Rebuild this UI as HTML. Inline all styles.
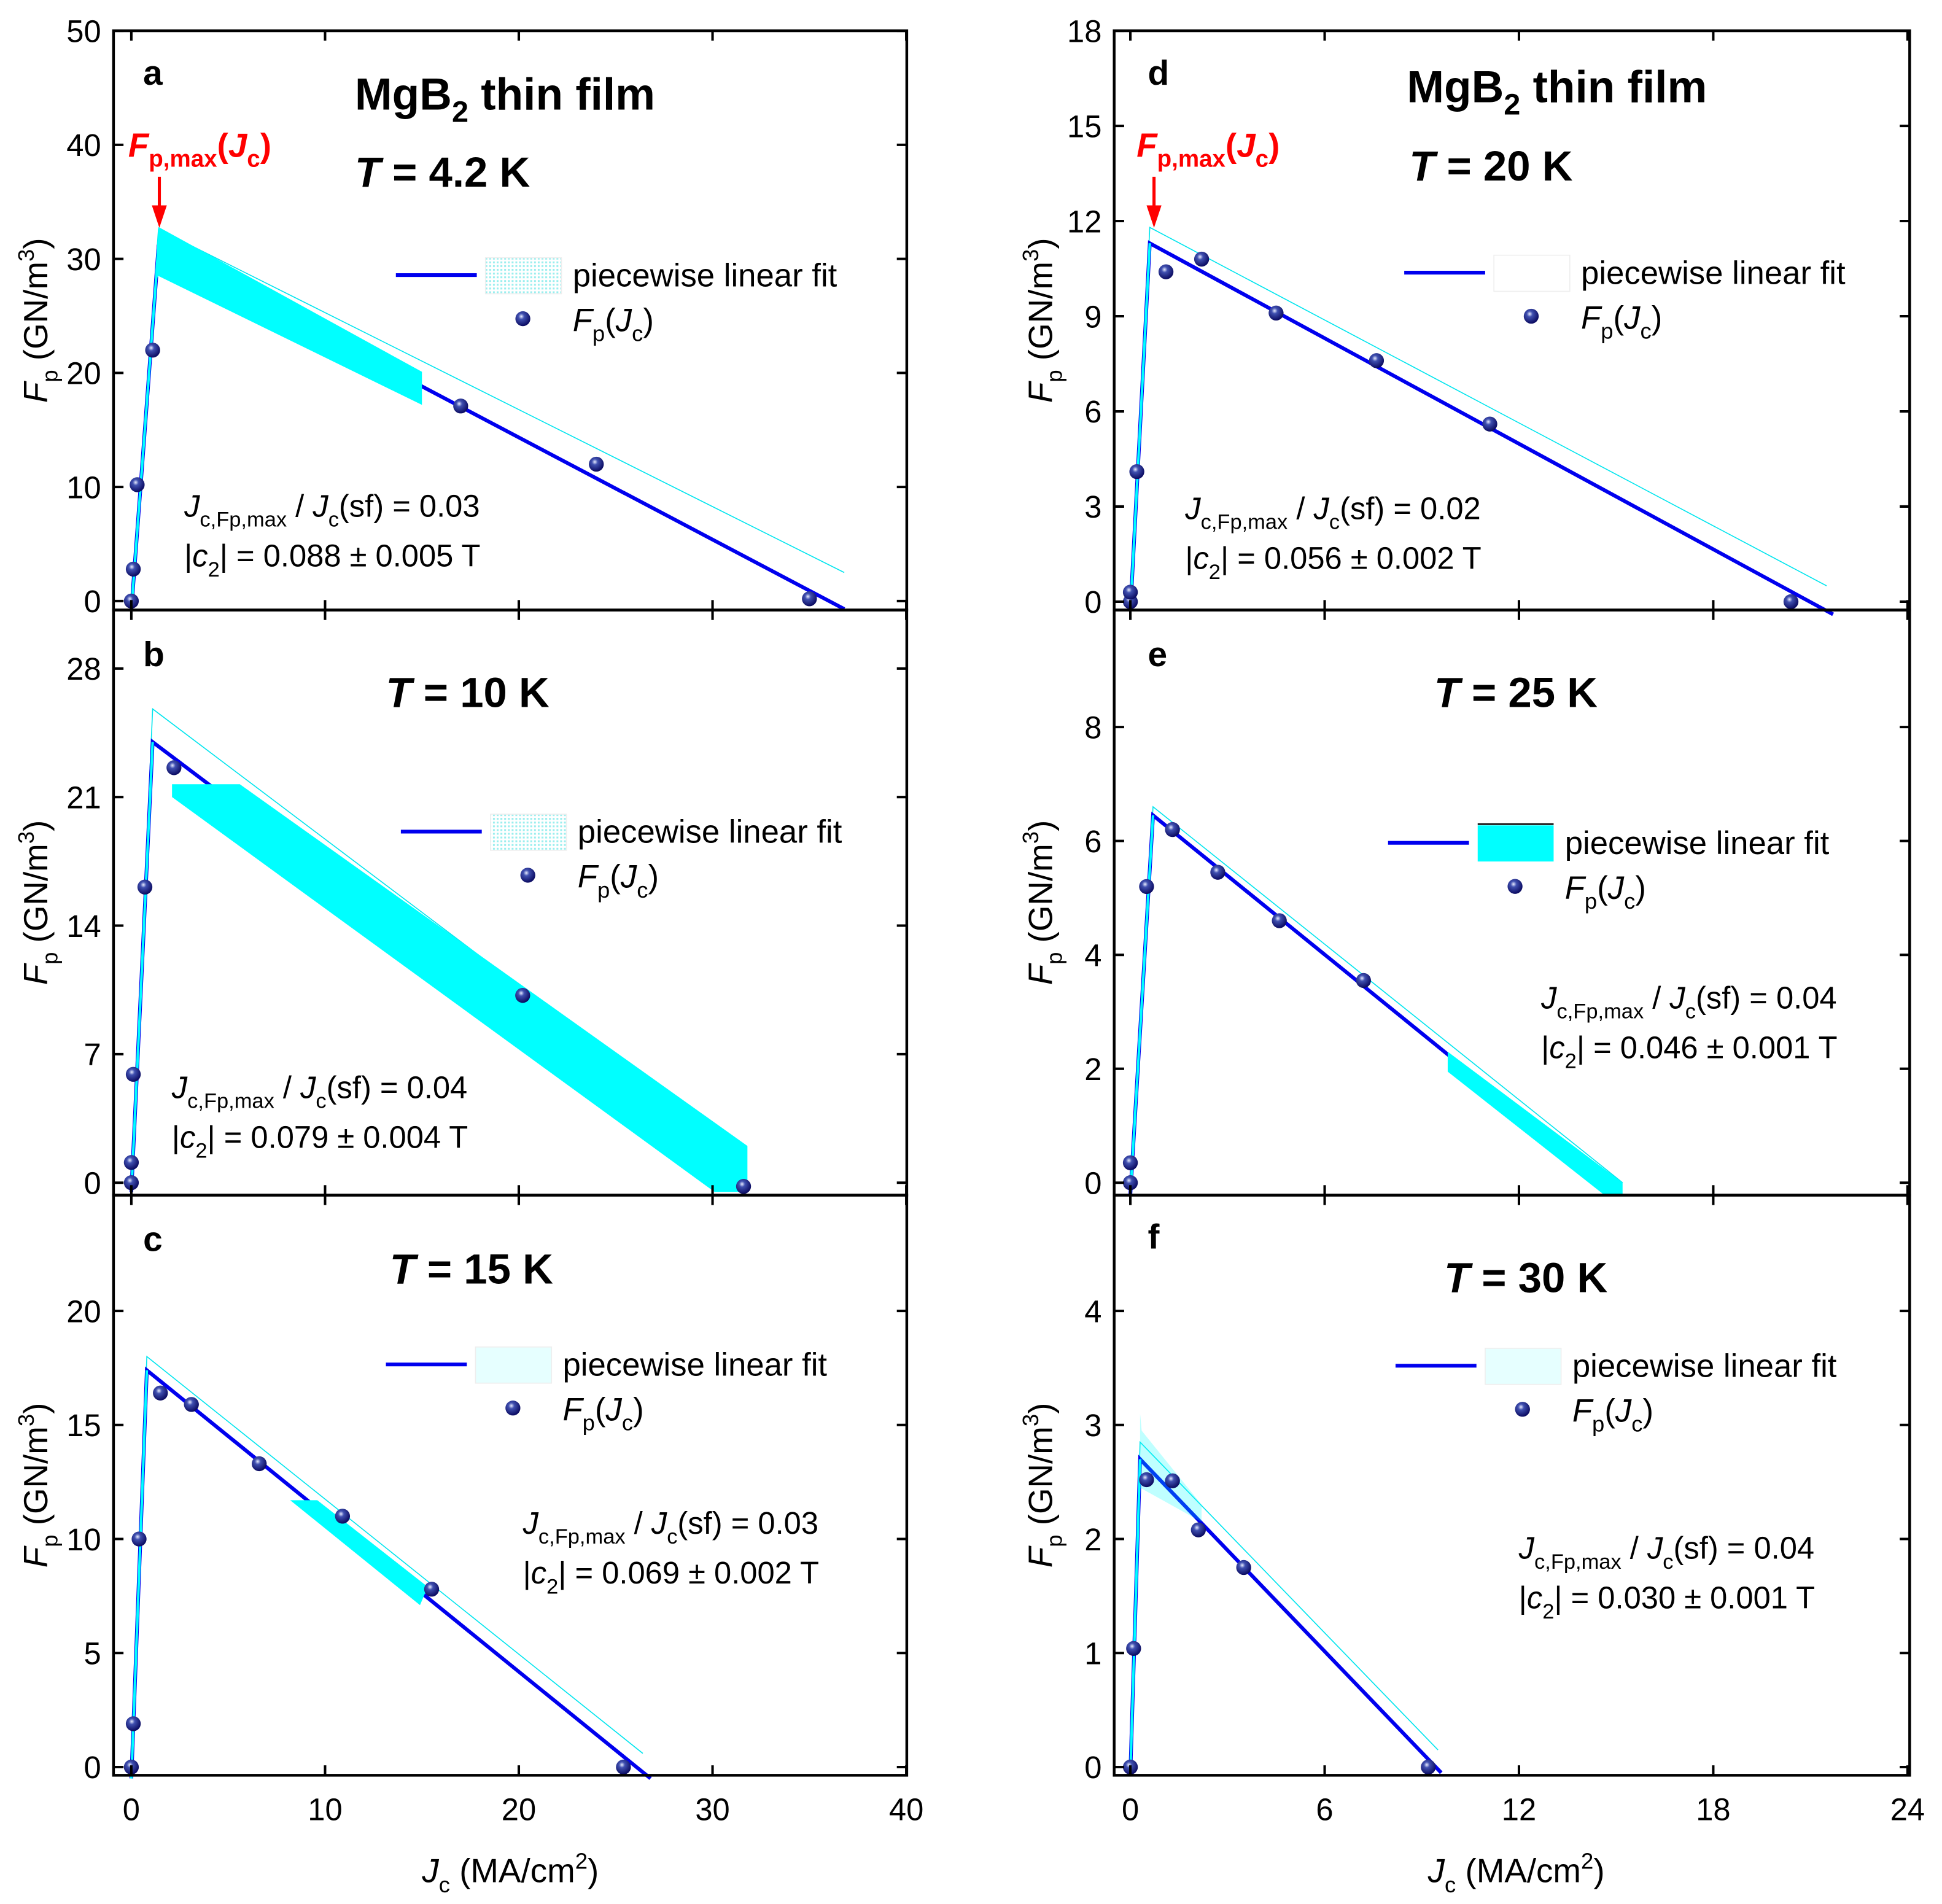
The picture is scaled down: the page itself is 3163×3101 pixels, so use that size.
<!DOCTYPE html>
<html><head><meta charset="utf-8"><style>
html,body{margin:0;padding:0;background:#fff;}
svg{display:block;}
text{font-family:"Liberation Sans",Arial,sans-serif;fill:#000;}
</style></head>
<body>
<svg id="chart" xmlns="http://www.w3.org/2000/svg" width="3163" height="3101" viewBox="0 0 3163 3101">
<defs>
<radialGradient id="ball" cx="0.4" cy="0.35" r="0.65">
<stop offset="0" stop-color="#e8ecff"/><stop offset="0.3" stop-color="#4050b0"/><stop offset="1" stop-color="#0a0a60"/>
</radialGradient>
<pattern id="dots" width="3" height="3" patternUnits="userSpaceOnUse"><rect width="3" height="3" fill="#fff"/><rect width="1.5" height="1.5" fill="#9ee"/></pattern>
</defs>
<g id="root" transform="scale(2.0276)">
<g font-weight="bold">
<text x="115" y="68" font-size="28">a</text>
<text x="285" y="88" font-size="36">MgB<tspan font-size="24" dy="10">2</tspan><tspan dy="-10"> thin film</tspan></text>
<text x="285" y="150" font-size="34"><tspan font-style="italic">T</tspan> = 4.2 K</text>
<text x="103" y="126" font-size="27" style="fill:#f00" font-style="italic">F<tspan font-size="19" dy="8" font-style="normal">p,max</tspan><tspan dy="-8" font-style="normal">(</tspan>J<tspan font-size="19" dy="8" font-style="normal">c</tspan><tspan dy="-8" font-style="normal">)</tspan></text>
</g>
<g font-weight="bold">
<text x="922" y="68" font-size="28">d</text>
<text x="1130" y="82" font-size="36">MgB<tspan font-size="24" dy="10">2</tspan><tspan dy="-10"> thin film</tspan></text>
<text x="1132" y="145" font-size="34"><tspan font-style="italic">T</tspan> = 20 K</text>
<text x="913" y="126" font-size="27" style="fill:#f00" font-style="italic">F<tspan font-size="19" dy="8" font-style="normal">p,max</tspan><tspan dy="-8" font-style="normal">(</tspan>J<tspan font-size="19" dy="8" font-style="normal">c</tspan><tspan dy="-8" font-style="normal">)</tspan></text>
</g>
<g font-weight="bold">
<text x="115" y="535" font-size="28">b</text>
<text x="310" y="568" font-size="34"><tspan font-style="italic">T</tspan> = 10 K</text>
<text x="115" y="1005" font-size="28">c</text>
<text x="313" y="1031" font-size="34"><tspan font-style="italic">T</tspan> = 15 K</text>
<text x="922" y="535" font-size="28">e</text>
<text x="1152" y="568" font-size="34"><tspan font-style="italic">T</tspan> = 25 K</text>
<text x="922" y="1003" font-size="28">f</text>
<text x="1160" y="1038" font-size="34"><tspan font-style="italic">T</tspan> = 30 K</text>
</g>
<g id="annots" font-size="25"></g>
<g id="marks"></g>
<g id="axes"></g>
<text x="410" y="1512" font-size="27" text-anchor="middle"><tspan font-style="italic">J</tspan><tspan font-size="18" dy="8">c</tspan><tspan dy="-8"> (MA/cm</tspan><tspan font-size="18" dy="-11">2</tspan><tspan dy="11">)</tspan></text>
<text x="1218" y="1512" font-size="27" text-anchor="middle"><tspan font-style="italic">J</tspan><tspan font-size="18" dy="8">c</tspan><tspan dy="-8"> (MA/cm</tspan><tspan font-size="18" dy="-11">2</tspan><tspan dy="11">)</tspan></text>
</g>
</svg>
<script>
// ---------- data ----------
const xTicksLeft = [0,10,20,30,40];
const xTicksRight = [0,6,12,18,24];
const aTicks=[0,10,20,30,40,50], bTicks=[0,7,14,21,28], cTicks=[0,5,10,15,20];
const dTicks=[0,3,6,9,12,15,18], eTicks=[0,2,4,6,8], fTicks=[0,1,2,3,4];
const aJc=[0,0.1,0.3,1.1,17,24,35], aFp=[0,2.8,10.2,22,17.1,12,0.2];
const bJc=[0,0,0.1,0.7,2.2,20.2,31.6], bFp=[0,1.1,5.9,16.1,22.6,10.2,-0.2];
const cJc=[0,0.1,0.4,1.5,3.1,6.6,10.9,15.5,25.4], cFp=[0,1.9,10,16.4,15.9,13.3,11,7.8,0];
const dJc=[0,0,0.2,1.1,2.2,4.5,7.6,11.1,20.4], dFp=[0,0.3,4.1,10.4,10.8,9.1,7.6,5.6,0];
const eJc=[0,0,0.5,1.3,2.7,4.6,7.2], eFp=[0,0.35,5.2,6.2,5.45,4.6,3.55];
const fJc=[0,0.1,0.5,1.3,2.1,3.5,9.2], fFp=[0,1.04,2.52,2.51,2.08,1.75,0];
const aFit=[[0,-0.8],[1.4,31],[36.8,-0.7]], aUpper=[[1.4,32.6],[36.8,2.5]];
const bFit=[[0,-0.5],[1.1,24],[31.6,-0.3]], bUpper=[[1.1,25.8],[31.6,1.5]];
const cFit=[[0,-0.5],[0.8,17.4],[26.8,-0.5]], cUpper=[[0.8,18],[26.4,0.6]];
const dFit=[[0,-0.3],[0.6,11.3],[21.7,-0.4]], dUpper=[[0.6,11.8],[21.5,0.5]];
const eFit=[[0,-0.2],[0.7,6.45],[14.9,-0.1]], eUpper=[[0.7,6.6],[15.2,0]];
const fFit=[[0,-0.05],[0.3,2.7],[9.6,-0.05]], fUpper=[[0.3,2.85],[9.5,0.15]];
const aBand=[[1.2,28],[1.4,32.8],[15,20.1],[15,17.2],[1.4,28.5]];
const bBand=[[2.1,21.7],[5.6,21.7],[31.8,2.0],[31.8,-0.5],[30.1,-0.5],[2.1,21.0]];
const cBand=[[8.2,11.7],[9.6,11.7],[15.3,7.9],[14.9,7.1]];
const dBand=[];
const eBand=[[9.8,2.3],[15.2,0],[15.2,-0.2],[14.6,-0.2],[9.8,1.95]];
const fBand=[[0.3,3.1],[0.35,2.95],[2.2,2.3],[2.2,2.15],[0.3,2.45]];
const bandOpacity=[1,1,1,1,1,0.25];
const annA=["0.03","0.088 ± 0.005 T"], annB=["0.04","0.079 ± 0.004 T"], annC=["0.03","0.069 ± 0.002 T"];
const annD=["0.02","0.056 ± 0.002 T"], annE=["0.04","0.046 ± 0.001 T"], annF=["0.04","0.030 ± 0.001 T"];

const NS="http://www.w3.org/2000/svg";
const L={x0:91.2,x1:728.4,xz:105.5,xs:(728-105.5)/40};
const R={x0:895,x1:1534,xz:908,xs:(1532.3-908)/24};
const panels=[
 {id:'a',col:L,top:24.7,bot:490,yz:482.8,ys:(482.8-24.7)/50,ticks:aTicks,jc:aJc,fp:aFp,fit:aFit,up:aUpper,band:aBand,ann:annA,annXY:[148,415],leg:[318,221],sw:'dots',arrow:128},
 {id:'b',col:L,top:490,bot:960,yz:950,ys:(950-537)/28,ticks:bTicks,jc:bJc,fp:bFp,fit:bFit,up:bUpper,band:bBand,ann:annB,annXY:[138,882],leg:[322,668],sw:'dots'},
 {id:'c',col:L,top:960,bot:1426,yz:1419.4,ys:(1419.4-1053)/20,ticks:cTicks,jc:cJc,fp:cFp,fit:cFit,up:cUpper,band:cBand,ann:annC,annXY:[420,1232],leg:[310,1096],sw:'light'},
 {id:'d',col:R,top:24.7,bot:490,yz:483.3,ys:(483.3-24.7)/18,ticks:dTicks,jc:dJc,fp:dFp,fit:dFit,up:dUpper,band:dBand,ann:annD,annXY:[952,417],leg:[1128,219],sw:'white',arrow:927},
 {id:'e',col:R,top:490,bot:960,yz:950,ys:(950-584)/8,ticks:eTicks,jc:eJc,fp:eFp,fit:eFit,up:eUpper,band:eBand,ann:annE,annXY:[1238,810],leg:[1115,677],sw:'cyan'},
 {id:'f',col:R,top:960,bot:1426,yz:1419.4,ys:(1419.4-1053)/4,ticks:fTicks,jc:fJc,fp:fFp,fit:fFit,up:fUpper,band:fBand,ann:annF,annXY:[1220,1252],leg:[1121,1097],sw:'light'}
];
function mk(tag,attrs,parent){const e=document.createElementNS(NS,tag);for(const k in attrs)e.setAttribute(k,attrs[k]);parent.appendChild(e);return e;}
const marks=document.getElementById('marks'), axes=document.getElementById('axes'), annots=document.getElementById('annots');

panels.forEach((p,pi)=>{
 const X=v=>p.col.xz+v*p.col.xs, Y=v=>p.yz-v*p.ys;
 const g=mk('g',{},marks);
 
 
 const ul=mk('polyline',{points:[p.fit[0],p.up[0],p.up[1]].map(q=>X(q[0])+','+Y(q[1])).join(' '),fill:'none',stroke:'#00e5ee','stroke-width':0.8},g);
 
 
 const fl=mk('polyline',{points:p.fit.map(q=>X(q[0])+','+Y(q[1])).join(' '),fill:'none',stroke:'#0000ee','stroke-width':3},g);
 
 
 const rc=mk('line',{x1:X(p.fit[0][0]),y1:Y(p.fit[0][1]),x2:X(p.fit[1][0]),y2:Y(p.fit[1][1]),stroke:'#00ffff','stroke-width':2},g);
 
 
 if(p.band.length){
  const poly=mk('polygon',{points:p.band.map(q=>X(q[0])+','+Y(q[1])).join(' '),fill:'#00ffff','fill-opacity':bandOpacity[pi]},g);
  
  
 }
 p.jc.forEach((v,i)=>{
  const c=mk('circle',{cx:X(v),cy:Y(p.fp[i]),r:6,fill:'url(#ball)'},g);
  
  
 });
 const fr=mk('rect',{x:p.col.x0,y:p.top,width:p.col.x1-p.col.x0,height:p.bot-p.top,fill:'none',stroke:'#000','stroke-width':2.2},axes);
 
 
 const tl=p.col.x0-10;
 p.ticks.forEach(t=>{
  const y=Y(t);
  mk('line',{x1:p.col.x0,y1:y,x2:p.col.x0+8,y2:y,stroke:'#000','stroke-width':2},axes);
  mk('line',{x1:p.col.x1,y1:y,x2:p.col.x1-8,y2:y,stroke:'#000','stroke-width':2},axes);
  const tx=mk('text',{x:tl,y:y+9,'font-size':25,'text-anchor':'end'},axes);
  tx.textContent=t;
  
  
 });
 const xt=p.col===L?xTicksLeft:xTicksRight;
 xt.forEach(t=>{
  const x=X(t);
  mk('line',{x1:x,y1:p.bot,x2:x,y2:p.bot-8,stroke:'#000','stroke-width':2},axes);
  mk('line',{x1:x,y1:p.top,x2:x,y2:p.top+8,stroke:'#000','stroke-width':2},axes);
  if(p.id==='c'||p.id==='f'){
   const tx=mk('text',{x:x,y:1462,'font-size':25,'text-anchor':'middle'},axes);
   tx.textContent=t;
   
   
  }
 });
 const cy=(p.top+p.bot)/2, yx=p.col===L?38:845;
 const yt=mk('text',{x:0,y:0,'font-size':27,'text-anchor':'middle',transform:`translate(${yx},${cy}) rotate(-90)`},axes);
 yt.innerHTML='<tspan font-style="italic">F</tspan><tspan font-size="18" dy="8">p</tspan><tspan dy="-8"> (GN/m</tspan><tspan font-size="18" dy="-11">3</tspan><tspan dy="11">)</tspan>';
 
 
 const [ax,ay]=p.annXY;
 const a1=mk('text',{x:ax,y:ay,'font-size':25},annots);
 a1.innerHTML='<tspan font-style="italic">J</tspan><tspan font-size="17" dy="8">c,Fp,max</tspan><tspan dy="-8"> / </tspan><tspan font-style="italic">J</tspan><tspan font-size="17" dy="8">c</tspan><tspan dy="-8">(sf) = '+p.ann[0]+'</tspan>';
 
 
 const a2=mk('text',{x:ax,y:ay+40,'font-size':25},annots);
 a2.innerHTML='|<tspan font-style="italic">c</tspan><tspan font-size="17" dy="8">2</tspan><tspan dy="-8">| = '+p.ann[1]+'</tspan>';
 
 
 const [lx,ly]=p.leg;
 const lg=mk('g',{},axes);
 
 
 mk('line',{x1:lx,y1:ly,x2:lx+65,y2:ly,stroke:'#0000ee','stroke-width':3},lg);
 const swFill={dots:'url(#dots)',light:'#e6ffff',white:'#fff',cyan:'#00ffff'}[p.sw];
 mk('rect',{x:lx+72,y:ly-14,width:61,height:29,fill:swFill,stroke:p.sw==='cyan'?'none':'#eee','stroke-width':0.8},lg);
 if(p.sw==='cyan')mk('line',{x1:lx+72,y1:ly-15,x2:lx+133,y2:ly-15,stroke:'#000','stroke-width':1.2},lg);
 const t1=mk('text',{x:lx+142,y:ly+9,'font-size':26},lg); t1.textContent='piecewise linear fit';
 mk('circle',{cx:lx+102,cy:ly+35,r:6,fill:'url(#ball)'},lg);
 const t2=mk('text',{x:lx+142,y:ly+45,'font-size':26},lg);
 t2.innerHTML='<tspan font-style="italic">F</tspan><tspan font-size="18" dy="8">p</tspan><tspan dy="-8">(</tspan><tspan font-style="italic">J</tspan><tspan font-size="18" dy="8">c</tspan><tspan dy="-8">)</tspan>';
 if(p.arrow){
  const ar=mk('g',{},axes);
  
  
  mk('line',{x1:p.arrow,y1:142,x2:p.arrow,y2:168,stroke:'#f00','stroke-width':2.5},ar);
  mk('polygon',{points:`${p.arrow-6},165 ${p.arrow+6},165 ${p.arrow},183`,fill:'#f00'},ar);
 }
});
</script>
</body></html>
